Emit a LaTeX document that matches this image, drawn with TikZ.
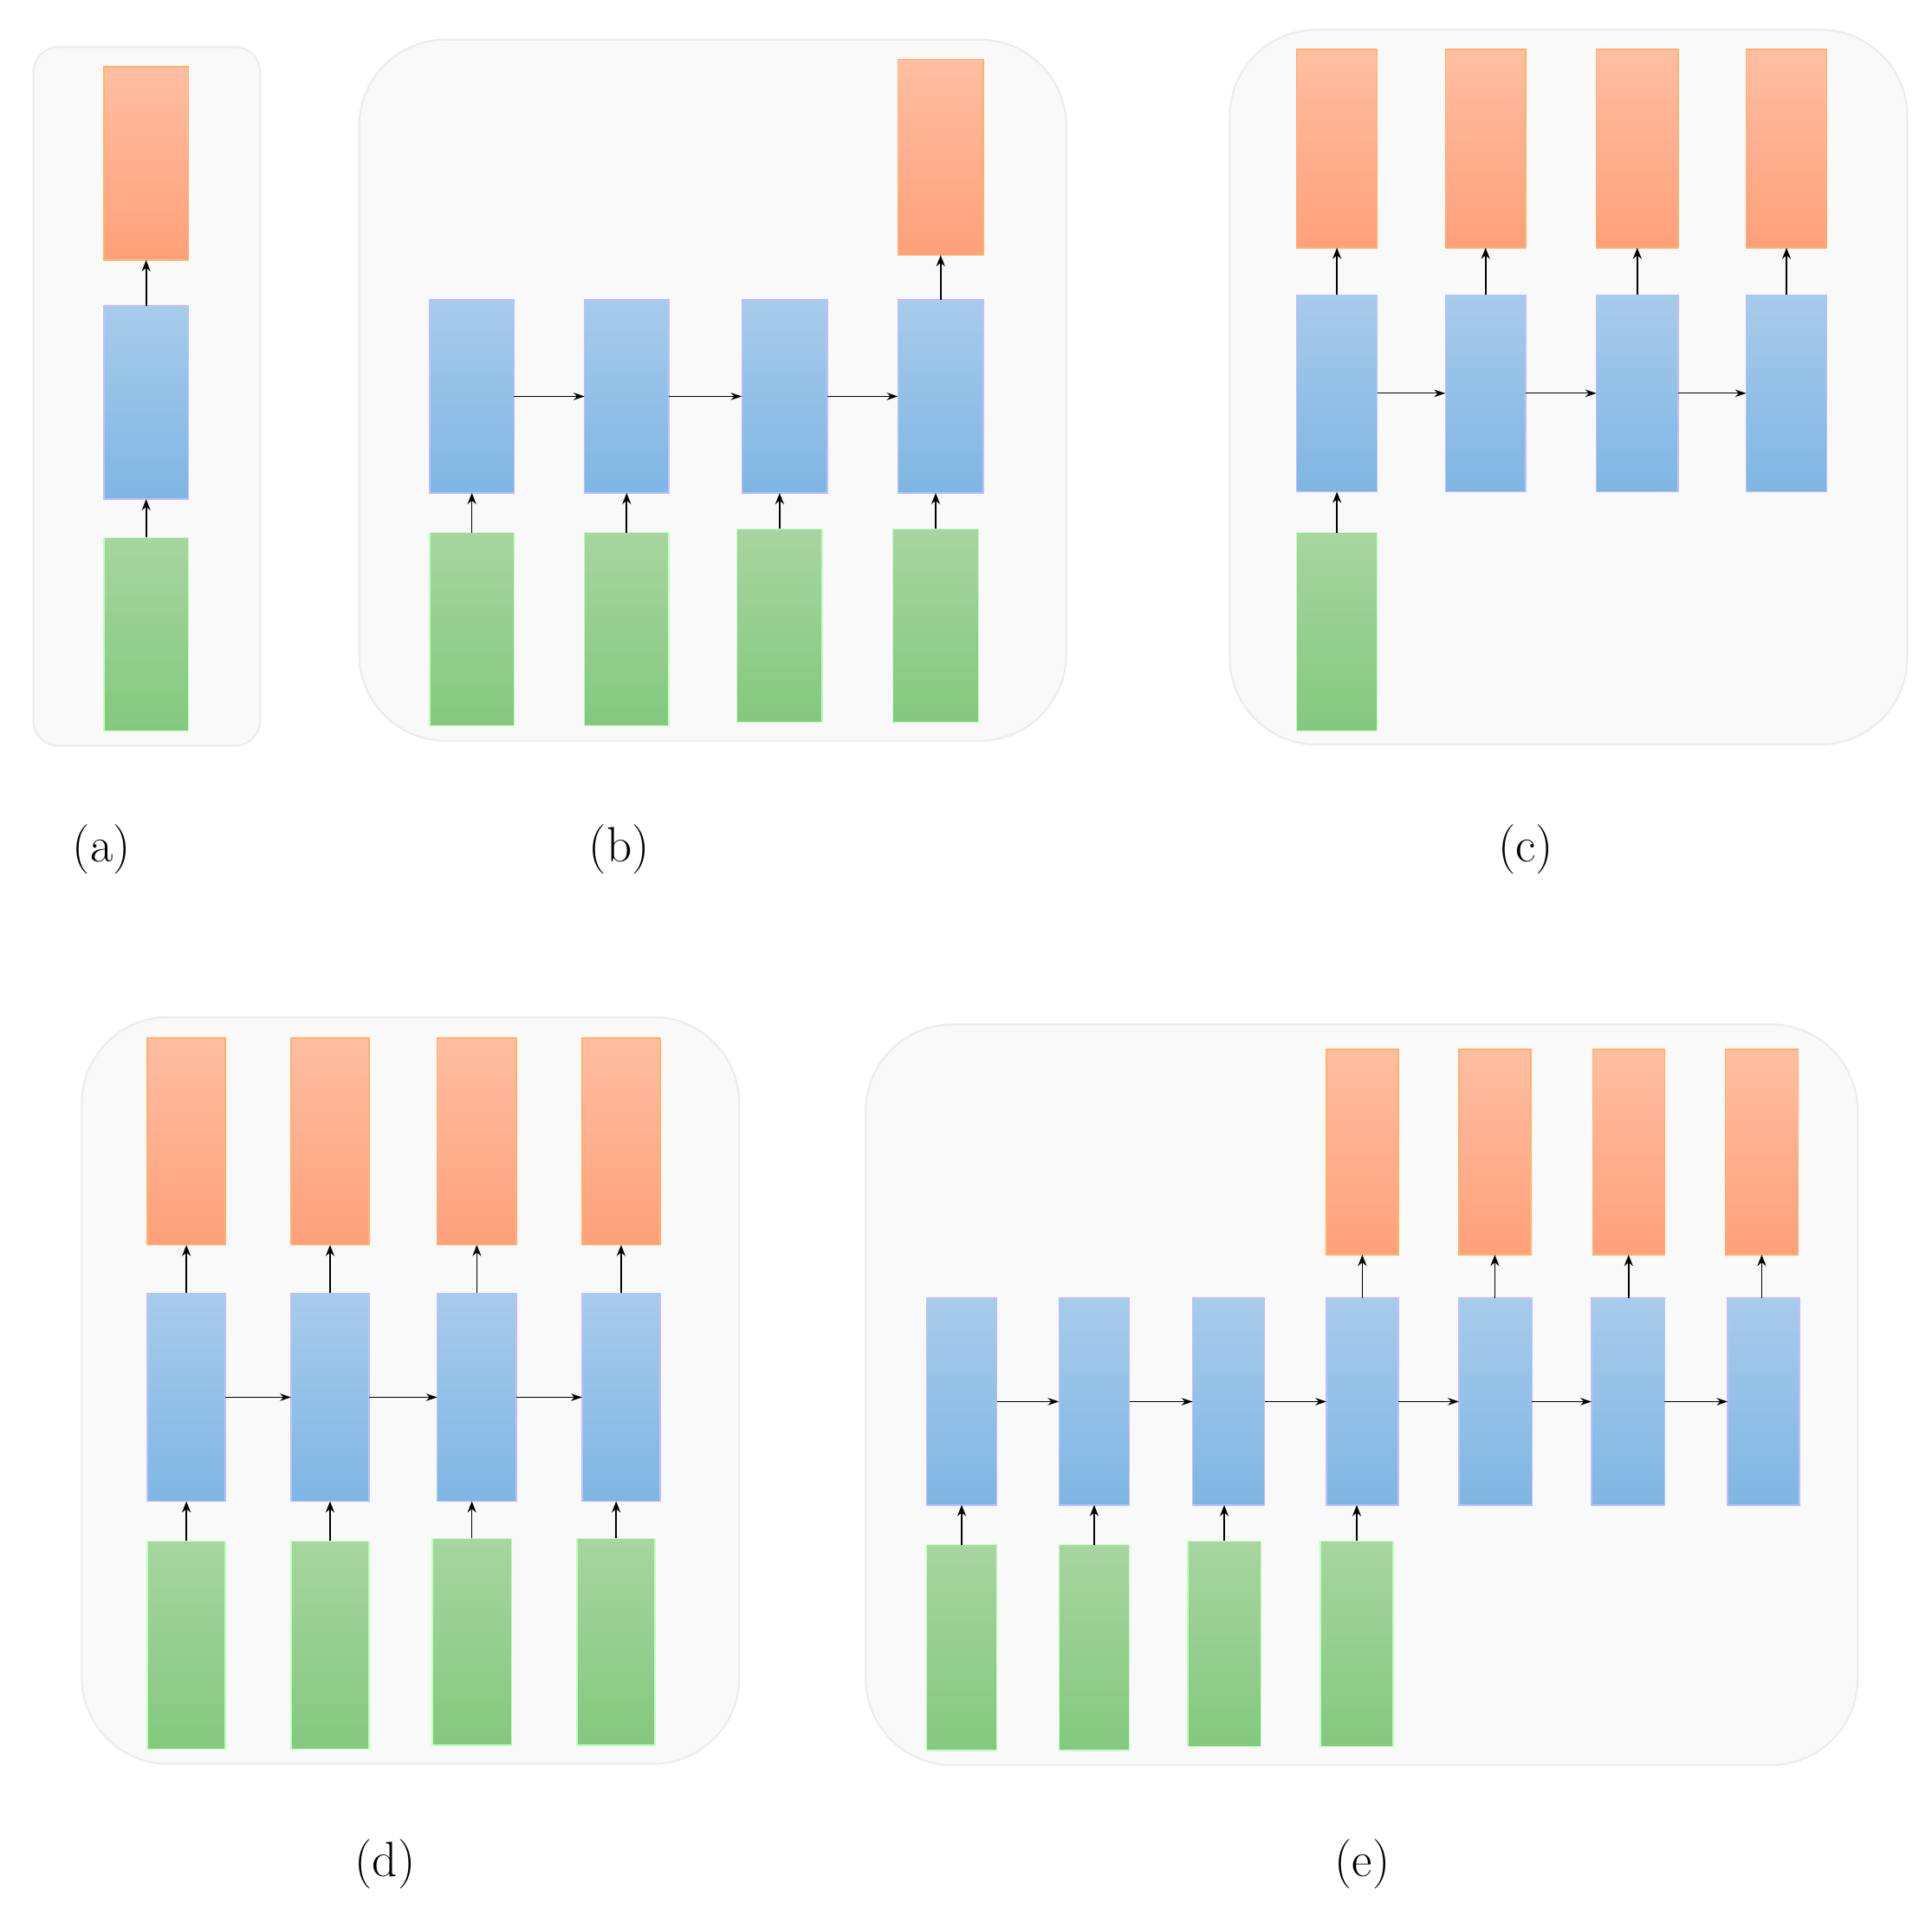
\documentclass[tikz,border=0pt]{standalone}
\usetikzlibrary{arrows.meta}
\definecolor{panelfill}{HTML}{F9F9F9}
\definecolor{paneledge}{HTML}{ECECEC}
\tikzset{
 panel/.style={fill=panelfill,draw=paneledge,line width=1.5pt},
 box/.style={inner sep=0,outer sep=0,draw,line width=1pt},
 obox/.style={box,draw=orange!60,top color={rgb,255:red,255;green,190;blue,162},bottom color={rgb,255:red,255;green,160;blue,122}},
 hbox/.style={box,draw=blue!25,top color={rgb,255:red,168;green,203;blue,235},bottom color={rgb,255:red,126;green,182;blue,227}},
 ibox/.style={box,draw=green!25,top color={rgb,255:red,168;green,213;blue,160},bottom color={rgb,255:red,131;green,201;blue,126}},
 arr/.style={-{Stealth[length=9pt,width=7pt]},line width=1.2pt},
 harr/.style={-{Stealth[length=9pt,width=6pt]},line width=0.8pt},
 lab/.style={font=\fontsize{40}{48}\selectfont}
}
\newcommand\bx[6]{\node[#6,minimum width={(#4-#2)*1pt},minimum height={(#5-#3)*1pt}] (#1) at ({(#2+#4)/2},{(#3+#5)/2}) {};}
\begin{document}
\begin{tikzpicture}[x=1pt,y=-1pt]
\useasboundingbox (0,0) rectangle (1560,1541);
% panels
\draw[panel,rounded corners=20] (27,38) rectangle (210,602);
\draw[panel,rounded corners=70] (290,32) rectangle (861,598);
\draw[panel,rounded corners=70] (993,24) rectangle (1540,601);
\draw[panel,rounded corners=70] (66,821) rectangle (597,1424);
\draw[panel,rounded corners=70] (699,827) rectangle (1500,1425);
% (a)
\bx{ao}{84}{54}{152}{210}{obox}
\bx{ah}{84}{247}{152}{403}{hbox}
\bx{ai}{84}{434}{152}{590}{ibox}
\draw[arr] (ai.north) -- (ah.south);
\draw[arr] (ah.north) -- (ao.south);
\node[lab] (la) at (82,686) {(a)};
% (b)
\bx{bh1}{347}{242}{415}{398}{hbox}
\bx{bh2}{472}{242}{540}{398}{hbox}
\bx{bh3}{599}{242}{668}{398}{hbox}
\bx{bh4}{725}{242}{794}{398}{hbox}
\bx{bi1}{347}{430}{415}{586}{ibox}
\bx{bi2}{472}{430}{540}{586}{ibox}
\bx{bi3}{595}{427}{664}{583}{ibox}
\bx{bi4}{721}{427}{790}{583}{ibox}
\bx{bo4}{725}{48}{794}{206}{obox}
\foreach \i in {1,...,4}{\draw[arr] (bi\i.north) -- (bi\i.north|-bh\i.south);}
\draw[harr] (bh1) -- (bh2); \draw[harr] (bh2) -- (bh3); \draw[harr] (bh3) -- (bh4);
\draw[arr] (bh4.north) -- (bo4.south);
\node[lab] (lb) at (500,686) {(b)};
% (c)
\bx{co1}{1047}{40}{1112}{200}{obox}
\bx{co2}{1167}{40}{1232}{200}{obox}
\bx{co3}{1289}{40}{1355}{200}{obox}
\bx{co4}{1410}{40}{1475}{200}{obox}
\bx{ch1}{1047}{238}{1112}{397}{hbox}
\bx{ch2}{1167}{238}{1232}{397}{hbox}
\bx{ch3}{1289}{238}{1355}{397}{hbox}
\bx{ch4}{1410}{238}{1475}{397}{hbox}
\bx{ci1}{1047}{430}{1112}{590}{ibox}
\draw[arr] (ci1.north) -- (ch1.south);
\foreach \i in {1,...,4}{\draw[arr] (ch\i.north) -- (co\i.south);}
\draw[harr] (ch1) -- (ch2); \draw[harr] (ch2) -- (ch3); \draw[harr] (ch3) -- (ch4);
\node[lab] (lc) at (1232,686) {(c)};
% (d)
\bx{do1}{119}{838}{182}{1005}{obox}
\bx{do2}{235}{838}{298}{1005}{obox}
\bx{do3}{353}{838}{417}{1005}{obox}
\bx{do4}{470}{838}{533}{1005}{obox}
\bx{dh1}{119}{1044}{182}{1212}{hbox}
\bx{dh2}{235}{1044}{298}{1212}{hbox}
\bx{dh3}{353}{1044}{417}{1212}{hbox}
\bx{dh4}{470}{1044}{533}{1212}{hbox}
\bx{di1}{119}{1244}{182}{1412}{ibox}
\bx{di2}{235}{1244}{298}{1412}{ibox}
\bx{di3}{349}{1242}{413}{1409}{ibox}
\bx{di4}{466}{1242}{529}{1409}{ibox}
\foreach \i in {1,...,4}{\draw[arr] (di\i.north) -- (di\i.north|-dh\i.south); \draw[arr] (dh\i.north) -- (do\i.south);}
\draw[harr] (dh1) -- (dh2); \draw[harr] (dh2) -- (dh3); \draw[harr] (dh3) -- (dh4);
\node[lab] (ld) at (311,1505) {(d)};
% (e)
\bx{eh1}{748}{1048}{805}{1215}{hbox}
\bx{eh2}{855}{1048}{912}{1215}{hbox}
\bx{eh3}{963}{1048}{1021}{1215}{hbox}
\bx{eh4}{1071}{1048}{1129}{1215}{hbox}
\bx{eh5}{1178}{1048}{1237}{1215}{hbox}
\bx{eh6}{1285}{1048}{1344}{1215}{hbox}
\bx{eh7}{1395}{1048}{1453}{1215}{hbox}
\bx{eo4}{1071}{847}{1129}{1013}{obox}
\bx{eo5}{1178}{847}{1236}{1013}{obox}
\bx{eo6}{1286}{847}{1344}{1013}{obox}
\bx{eo7}{1393}{847}{1452}{1013}{obox}
\bx{ei1}{748}{1247}{805}{1413}{ibox}
\bx{ei2}{855}{1247}{912}{1413}{ibox}
\bx{ei3}{959}{1244}{1018}{1410}{ibox}
\bx{ei4}{1066}{1244}{1125}{1410}{ibox}
\foreach \i in {1,...,4}{\draw[arr] (ei\i.north) -- (ei\i.north|-eh\i.south);}
\foreach \i in {4,...,7}{\draw[arr] (eo\i.south|-eh\i.north) -- (eo\i.south);}
\foreach \i/\j in {1/2,2/3,3/4,4/5,5/6,6/7}{\draw[harr] (eh\i) -- (eh\j);}
\node[lab] (le) at (1100,1505) {(e)};
\end{tikzpicture}
\end{document}
